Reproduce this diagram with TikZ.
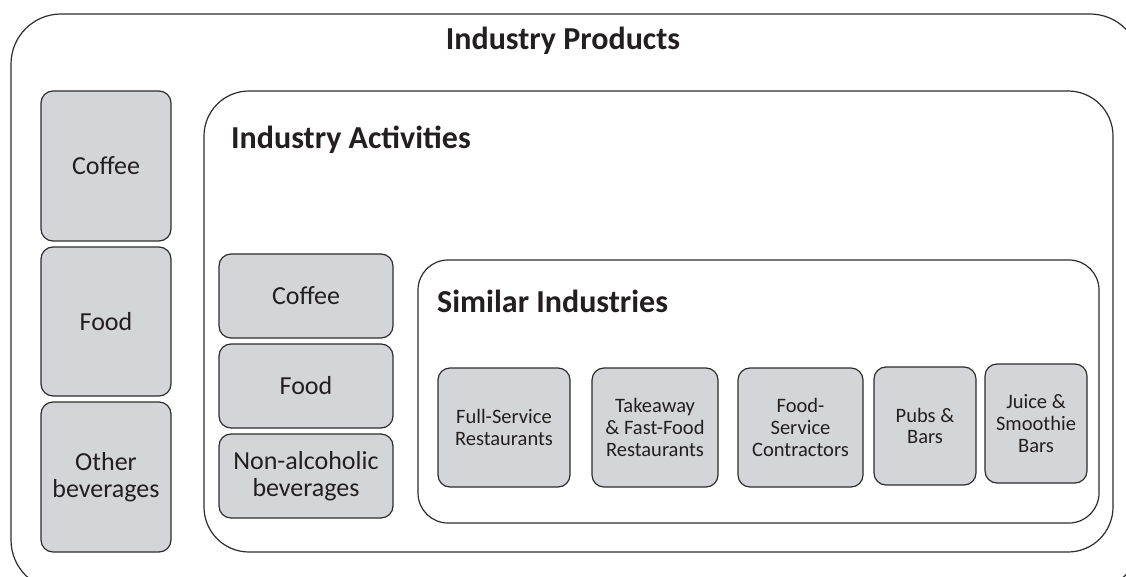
\documentclass[tikz,border=0pt]{standalone}
\usepackage{fontspec}
\setmainfont{Carlito}
\usepackage{tikz}

\definecolor{boxgray}{RGB}{212,213,216}
\definecolor{linegray}{RGB}{45,45,45}
\definecolor{textdark}{RGB}{35,31,32}

\tikzset{
  frame/.style = {draw = linegray, line width = 1.2pt},
  itembox/.style = {draw = linegray, fill = boxgray, line width = 1.2pt,
    rounded corners = 12pt, align = center, text = textdark, inner sep = 0pt},
  bigtext/.style = {font = \fontsize{26}{27}\selectfont},
  smalltext/.style = {font = \fontsize{20.5}{21.7}\selectfont},
  heading/.style = {font = \fontsize{32}{36}\selectfont\bfseries, text = textdark, inner sep = 0pt}
}

\begin{document}
\begin{tikzpicture}[x = 1pt, y = 1pt]
        \useasboundingbox (0, 0) rectangle (1126, 576);
        \fill[white] (0, 0) rectangle (1126, 576);

        % outer frame, cut by the page
        \begin{scope}
          \clip (0, 0) rectangle (1126, 576);
          \draw[frame, rounded corners = 50pt] (11, 562) rectangle (1140, -14);
        \end{scope}
        \node[heading] (products) at (563, 535) {Industry Products};

        % products column
        \node[itembox, bigtext, minimum width = 130pt, minimum height = 150pt] (prodcoffee) at (106, 410) {Coffee};
        \node[itembox, bigtext, minimum width = 130pt, minimum height = 149pt] (prodfood) at (106, 254.5) {Food};
        \node[itembox, bigtext, minimum width = 130pt, minimum height = 150pt] (prodother) at (106, 99) {Other\\beverages};

        % activities frame
        \draw[frame, rounded corners = 45pt] (204, 485) rectangle (1113, 24);
        \node[heading, anchor = west] (activities) at (231, 436) {Industry Activities};

        \node[itembox, bigtext, minimum width = 174pt, minimum height = 84pt] (actcoffee) at (306, 280) {Coffee};
        \node[itembox, bigtext, minimum width = 174pt, minimum height = 84pt] (actfood) at (306, 190) {Food};
        \node[itembox, bigtext, minimum width = 174pt, minimum height = 84pt] (actdrinks) at (306, 100) {Non-alcoholic\\beverages};

        % similar industries frame
        \draw[frame, rounded corners = 30pt] (418, 316) rectangle (1099, 53);
        \node[heading, anchor = west] (similar) at (437, 275) {Similar Industries};

        \node[itembox, smalltext, minimum width = 132pt, minimum height = 119pt] (fullservice) at (504, 148.5) {Full-Service\\Restaurants};
        \node[itembox, smalltext, minimum width = 126pt, minimum height = 119pt] (takeaway) at (655, 148.5) {Takeaway\\\& Fast-Food\\Restaurants};
        \node[itembox, smalltext, minimum width = 125pt, minimum height = 119pt] (contractors) at (800.5, 148.5) {Food-\\Service\\Contractors};
        \node[itembox, smalltext, minimum width = 102pt, minimum height = 118pt] (pubs) at (925, 150) {Pubs \&\\Bars};
        \node[itembox, smalltext, minimum width = 102pt, minimum height = 119pt] (juice) at (1036, 152.5) {Juice \&\\Smoothie\\Bars};
      \end{tikzpicture}
\end{document}
